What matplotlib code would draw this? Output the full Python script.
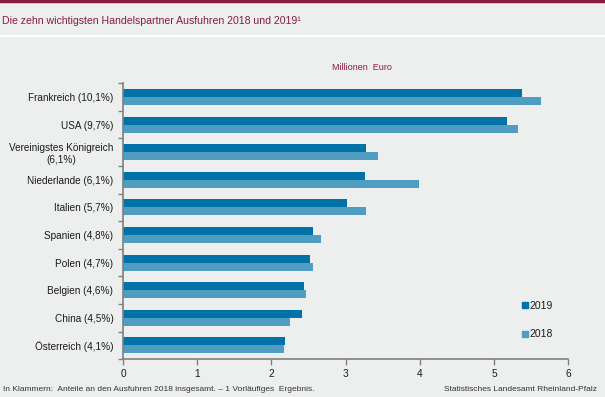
import numpy as np
import matplotlib.pyplot as plt
from matplotlib.lines import Line2D

plt.rcParams['font.family'] = ['Liberation Sans', 'DejaVu Sans']

# Data (Milliarden Euro)
countries = ["Frankreich (10,1%)", "USA (9,7%)", "Vereinigstes Königreich\n(6,1%)",
             "Niederlande (6,1%)", "Italien (5,7%)", "Spanien (4,8%)", "Polen (4,7%)",
             "Belgien (4,6%)", "China (4,5%)", "Österreich (4,1%)"]
values_2019 = [5.37, 5.17, 3.27, 3.26, 3.02, 2.56, 2.52, 2.44, 2.41, 2.18]
values_2018 = [5.63, 5.32, 3.43, 3.99, 3.27, 2.67, 2.56, 2.47, 2.25, 2.17]
xticks = [0, 1, 2, 3, 4, 5, 6]

bg = '#edefee'
dark_red = '#8b1a3c'
c2019 = '#0072a7'
c2018 = '#4f9ec2'
txt = '#1a1a1a'

fig = plt.figure(figsize=(6.05, 3.97), dpi=100, facecolor=bg)
ax = fig.add_axes([0.2033, 0.095, 0.736, 0.6954])
ax.set_facecolor(bg)

y = np.arange(len(countries))
h = 0.29
ax.barh(y - h / 2, values_2019, height=h, color=c2019, label='2019')
ax.barh(y + h / 2, values_2018, height=h, color=c2018, label='2018')

ax.set_ylim(len(countries) - 0.5, -0.5)
ax.set_xlim(0, 6)
ax.set_xticks(xticks)
ax.set_xticklabels([str(t) for t in xticks], fontsize=7.3, color=txt)
ax.set_yticks(y)
ax.set_yticklabels(countries, fontsize=7.2, multialignment='center', color=txt)
ax.set_yticks(np.arange(len(countries) + 1) - 0.5, minor=True)
ax.tick_params(axis='y', which='major', length=0, pad=7)
ax.tick_params(axis='y', which='minor', length=3.5, color='#808080', width=1)
ax.tick_params(axis='x', length=4, color='#808080', width=1, pad=3)

for side in ['top', 'right']:
    ax.spines[side].set_visible(False)
for side in ['left', 'bottom']:
    ax.spines[side].set_color('#808080')
    ax.spines[side].set_linewidth(1.2)

# legend
handles = [Line2D([], [], marker='s', linestyle='', color=c2019, markersize=4),
           Line2D([], [], marker='s', linestyle='', color=c2018, markersize=4)]
fig.legend(handles, ['2019', '2018'], loc='upper left', bbox_to_anchor=(0.852, 0.255),
           frameon=False, fontsize=7.5, labelspacing=1.75, handletextpad=0.05,
           handlelength=0.8, borderpad=0, labelcolor=txt)

# frame decorations
fig.add_artist(plt.Line2D([0, 1], [0.9975, 0.9975], color=dark_red, linewidth=2.5))
fig.add_artist(plt.Line2D([0, 1], [0.909, 0.909], color='white', linewidth=1.6))

fig.text(0.004, 0.948, "Die zehn wichtigsten Handelspartner Ausfuhren 2018 und 2019¹",
         color=dark_red, fontsize=7.6, va='center', ha='left')
fig.text(0.599, 0.831, "Millionen  Euro", color=dark_red, fontsize=6.5,
         va='center', ha='center')
fig.text(0.005, 0.02, "In Klammern:  Anteile an den Ausfuhren 2018 insgesamt. – 1 Vorläufiges  Ergebnis.",
         fontsize=6, color='#333333', va='center', ha='left')
fig.text(0.986, 0.02, "Statistisches Landesamt Rheinland-Pfalz",
         fontsize=6, color='#333333', va='center', ha='right')

fig.savefig('out.png', dpi=100, facecolor=bg)
